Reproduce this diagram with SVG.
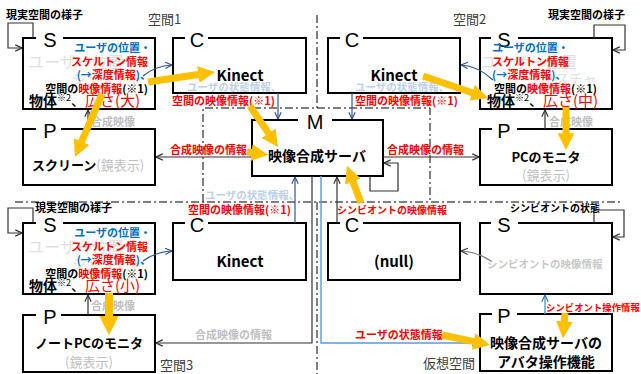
<svg xmlns="http://www.w3.org/2000/svg" width="641" height="374" viewBox="0 0 641 374">
<defs>
<style>
text{font-family:"Noto Sans CJK JP","Noto Sans",sans-serif}
.box{fill:#fff;stroke:#000;stroke-width:2}
.gap{fill:#fff}
.let{font-family:"Liberation Sans",sans-serif;font-size:20px;text-anchor:middle}
.s{font-size:11px;font-weight:bold}
.lb{font-size:11px;font-weight:bold}
.big{font-size:13px;font-weight:bold;text-anchor:middle}
.r{fill:#ff0000}
.bl{fill:#0070c0}
.gr{fill:#bfbfbf}
.gh{fill:#e0e0e0;font-size:16px}
.fb{fill:#bdd0ea;font-size:10.5px;font-weight:bold}
.sp{font-size:13px;fill:#404040}
.dd{fill:none;stroke:#000;stroke-width:1;stroke-dasharray:8 3 2 3}
.k{fill:none;stroke:#333;stroke-width:1.2;marker-end:url(#ak)}
.db{fill:none;stroke:#2f5597;stroke-width:1.2;marker-end:url(#adb)}
.lbln{fill:none;stroke:#5b9bd5;stroke-width:1.4;marker-end:url(#alb)}
.gy{fill:none;stroke:#7f7f7f;stroke-width:1.2;marker-end:url(#ak)}
.or{fill:none;stroke:#ffc000;stroke-width:7;marker-end:url(#oa)}
</style>
<marker id="ak" viewBox="0 0 10 10" refX="9.5" refY="5" markerWidth="9" markerHeight="9" markerUnits="userSpaceOnUse" orient="auto"><path d="M2,1.5 L9.5,5 L2,8.5" fill="none" stroke="#333" stroke-width="1.3"/></marker>
<marker id="adb" viewBox="0 0 10 10" refX="9.5" refY="5" markerWidth="9" markerHeight="9" markerUnits="userSpaceOnUse" orient="auto"><path d="M2,1.5 L9.5,5 L2,8.5" fill="none" stroke="#2f5597" stroke-width="1.3"/></marker>
<marker id="alb" viewBox="0 0 10 10" refX="9.5" refY="5" markerWidth="9" markerHeight="9" markerUnits="userSpaceOnUse" orient="auto"><path d="M2,1.5 L9.5,5 L2,8.5" fill="none" stroke="#2e75b6" stroke-width="1.3"/></marker>
<marker id="oa" viewBox="0 0 10 10" refX="1" refY="5" markerWidth="2.4" markerHeight="2.4" orient="auto"><path d="M0,0 L10,5 L0,10 z" fill="#ffc000"/></marker>
</defs>
<rect width="641" height="374" fill="#fff"/>

<g id="dividers">
<path class="dd" d="M317,15 V108"/>
<path class="dd" d="M317,202 V374"/>
<path class="dd" d="M15,202 H620"/>
<path class="dd" d="M203,202 V108 H430 V202"/>
<text class="sp" x="148" y="24">空間1</text>
<text class="sp" x="453" y="24">空間2</text>
<text class="sp" x="160" y="370">空間3</text>
<text class="sp" x="423" y="368">仮想空間</text>
</g>

<g id="node-S1">
<rect class="box" x="23" y="38" width="132" height="71"/>
<rect class="gap" x="36" y="34" width="27" height="8"/>
<text class="let" x="50" y="47">S</text>
<text class="gh" x="28" y="68">ユーザー位置</text>
<text class="gh" x="72" y="84" style="font-size:14px">ジェスチャ</text>
<text class="s bl" x="151" y="52" text-anchor="end">ユーザの位置・</text>
<text class="s r" x="148" y="66" text-anchor="end">スケルトン情報</text>
<text class="s" x="151" y="79" text-anchor="end"><tspan class="bl">(→</tspan><tspan class="r">深度情報</tspan><tspan class="bl">)、</tspan></text>
<text class="s" x="148" y="93" text-anchor="end">空間の<tspan class="r">映像情報</tspan>(※1)</text>
<text x="29" y="106"><tspan font-size="14" font-weight="bold">物体</tspan><tspan font-size="9" dy="-5">※2</tspan><tspan font-size="14" dy="5">、</tspan><tspan class="r" font-size="15">広さ(大)</tspan></text>
</g>

<g id="node-S2">
<rect class="box" x="480" y="38" width="132" height="71"/>
<rect class="gap" x="491" y="34" width="27" height="8"/>
<text class="let" x="504" y="47">S</text>
<text class="gh" x="481" y="68">ユーザー位置</text>
<text class="gh" x="527" y="84" style="font-size:14px">ジェスチャ</text>
<text class="s bl" x="492" y="52">ユーザの位置・</text>
<text class="s r" x="492" y="66">スケルトン情報</text>
<text class="s" x="492" y="79"><tspan class="bl">(→</tspan><tspan class="r">深度情報</tspan><tspan class="bl">)、</tspan></text>
<text class="s" x="494" y="93">空間の<tspan class="r">映像情報</tspan>(※1)</text>
<text x="487" y="106"><tspan font-size="14" font-weight="bold">物体</tspan><tspan font-size="9" dy="-5">※2</tspan><tspan font-size="14" dy="5">、</tspan><tspan class="r" font-size="15">広さ(中)</tspan></text>
</g>

<g id="node-S3">
<rect class="box" x="23" y="223" width="132" height="71"/>
<rect class="gap" x="36" y="219" width="27" height="8"/>
<text class="let" x="50" y="232">S</text>
<text class="gh" x="28" y="253">ユーザー位置</text>
<text class="gh" x="72" y="269" style="font-size:14px">ジェスチャ</text>
<text class="s bl" x="151" y="237" text-anchor="end">ユーザの位置・</text>
<text class="s r" x="148" y="251" text-anchor="end">スケルトン情報</text>
<text class="s" x="151" y="264" text-anchor="end"><tspan class="bl">(→</tspan><tspan class="r">深度情報</tspan><tspan class="bl">)、</tspan></text>
<text class="s" x="148" y="278" text-anchor="end">空間の<tspan class="r">映像情報</tspan>(※1)</text>
<text x="29" y="291"><tspan font-size="14" font-weight="bold">物体</tspan><tspan font-size="9" dy="-5">※2</tspan><tspan font-size="14" dy="5">、</tspan><tspan class="r" font-size="15">広さ(小)</tspan></text>
</g>

<g id="node-S4">
<rect class="box" x="480" y="223" width="132" height="71"/>
<rect class="gap" x="491" y="219" width="27" height="8"/>
<text class="let" x="504" y="232">S</text>
<text x="487" y="268" font-size="10.5" font-weight="bold" fill="#c8c8c8">シンビオントの映像情報</text>
</g>

<g id="node-C1">
<rect class="box" x="173" y="38" width="133" height="55"/>
<rect class="gap" x="185" y="34" width="23" height="8"/>
<text class="let" x="197" y="47">C</text>
<text class="big" x="240" y="81" style="font-size:15px">Kinect</text>
</g>
<g id="node-C2">
<rect class="box" x="328" y="38" width="132" height="55"/>
<rect class="gap" x="340" y="34" width="23" height="8"/>
<text class="let" x="352" y="47">C</text>
<text class="big" x="394" y="81" style="font-size:15px">Kinect</text>
</g>
<g id="node-C3">
<rect class="box" x="173" y="223" width="133" height="57"/>
<rect class="gap" x="185" y="219" width="23" height="8"/>
<text class="let" x="197" y="232">C</text>
<text class="big" x="240" y="267" style="font-size:15px">Kinect</text>
</g>
<g id="node-C4">
<rect class="box" x="328" y="223" width="132" height="57"/>
<rect class="gap" x="340" y="219" width="23" height="8"/>
<text class="let" x="352" y="232">C</text>
<text class="big" x="394" y="267" style="font-size:15px">(null)</text>
</g>

<g id="node-M">
<rect class="box" x="252" y="120" width="131" height="56"/>
<rect class="gap" x="298" y="116" width="34" height="8"/>
<text class="let" x="315" y="129">M</text>
<text class="big" x="317" y="161" style="font-size:14px">映像合成サーバ</text>
</g>

<g id="node-P1">
<rect class="box" x="23" y="129" width="132" height="56"/>
<rect class="gap" x="36" y="125" width="25" height="8"/>
<text class="let" x="50" y="138">P</text>
<text x="32" y="170" font-size="13"><tspan font-weight="bold">スクリーン</tspan><tspan class="gr">(鏡表示)</tspan></text>
</g>
<g id="node-P2">
<rect class="box" x="480" y="129" width="132" height="56"/>
<rect class="gap" x="492" y="125" width="25" height="8"/>
<text class="let" x="504" y="138">P</text>
<text class="big" x="546" y="162">PCのモニタ</text>
<text class="big gr" x="546" y="180" style="font-weight:normal">(鏡表示)</text>
</g>
<g id="node-P3">
<rect class="box" x="23" y="315" width="132" height="57"/>
<rect class="gap" x="36" y="311" width="25" height="8"/>
<text class="let" x="50" y="324">P</text>
<text class="big" x="89" y="348">ノートPCのモニタ</text>
<text class="big gr" x="89" y="367" style="font-weight:normal">(鏡表示)</text>
</g>
<g id="node-P4">
<rect class="box" x="480" y="314" width="132" height="57"/>
<rect class="gap" x="492" y="310" width="25" height="8"/>
<text class="let" x="504" y="323">P</text>
<text class="big" x="546" y="348" style="font-size:14px">映像合成サーバの</text>
<text class="big" x="546" y="367" style="font-size:14px">アバタ操作機能</text>
</g>

<g id="connectors">
<path class="k" d="M33,38 V23 H8 V48 H22"/>
<path class="k" d="M594,38 V25 H625 V50 H613"/>
<path class="k" d="M33,223 V208 H8 V233 H22"/>
<path class="k" d="M594,223 V210 H624 V237 H613"/>
<path class="db" d="M143,76 Q155,66 172,65"/>
<path class="db" d="M493,80 Q478,66 461,65"/>
<path class="db" d="M143,261 Q155,252 172,251"/>
<path class="gy" d="M491,261 Q478,252 461,251"/>
<path class="db" d="M278,93 V119"/>
<path class="db" d="M352,93 V119"/>
<path class="db" d="M295,223 V177"/>
<path class="k" d="M337,223 V177"/>
<path class="k" d="M252,157 H156"/>
<path class="k" d="M383,157 H479"/>
<path class="k" d="M370,176 V191 H398 V163 H384"/>
<path class="k" d="M312,176 V343 H156"/>
<path class="lbln" d="M321,176 V343 H479"/>
<path class="k" d="M88,129 V110"/>
<path class="k" d="M545,129 V110"/>
<path class="k" d="M88,315 V295"/>
<path class="lbln" d="M545,314 V295"/>

<text class="lb" x="6" y="19">現実空間の様子</text>
<text class="lb" x="548" y="19">現実空間の様子</text>
<text class="lb" x="35" y="212">現実空間の様子</text>
<text x="510" y="212" font-size="10" font-weight="bold">シンビオントの状態</text>
<text class="lb gr" x="91" y="126">合成映像</text>
<text class="lb gr" x="549" y="126">合成映像</text>
<text class="lb gr" x="91" y="310">合成映像</text>
<text class="lb r" x="170" y="154">合成映像の情報</text>
<text class="lb r" x="387" y="154">合成映像の情報</text>
<text class="fb" x="187" y="91">ユーザの状態情報、</text>
<text class="lb r" x="172" y="105">空間の映像情報(※1)</text>
<text class="fb" x="355" y="91">ユーザの状態情報、</text>
<text class="lb r" x="355" y="105">空間の映像情報(※1)</text>
<text class="fb" x="205" y="199">ユーザの状態情報、</text>
<text class="lb r" x="188" y="214">空間の映像情報(※1)</text>
<text x="337" y="214" font-size="10" font-weight="bold" class="r">シンビオントの映像情報</text>
<text class="lb gr" x="195" y="339">合成映像の情報</text>
<text class="lb r" x="355" y="339">ユーザの状態情報</text>
<text x="546" y="311" font-size="9.4" font-weight="bold" class="r">シンビオント操作情報</text>
</g>

<g id="flow-arrows">
<path class="or" d="M148,82 L200,74.2"/>
<path class="or" d="M102,94 L80.9,143.2"/>
<path class="or" d="M250,106 L269.5,134.6"/>
<path class="or" d="M247,152 L253.2,152.8"/>
<path class="or" d="M423,76 L473.8,93.2"/>
<path class="or" d="M566,107 L566,135"/>
<path class="or" d="M361,203 L352.3,180"/>
<path class="or" d="M109,293 L109,318" style="stroke-width:8px"/>
<path class="or" d="M442,335 L475.3,341.9"/>
<path class="or" d="M565,313 L564.2,323.1"/>
</g>
</svg>
